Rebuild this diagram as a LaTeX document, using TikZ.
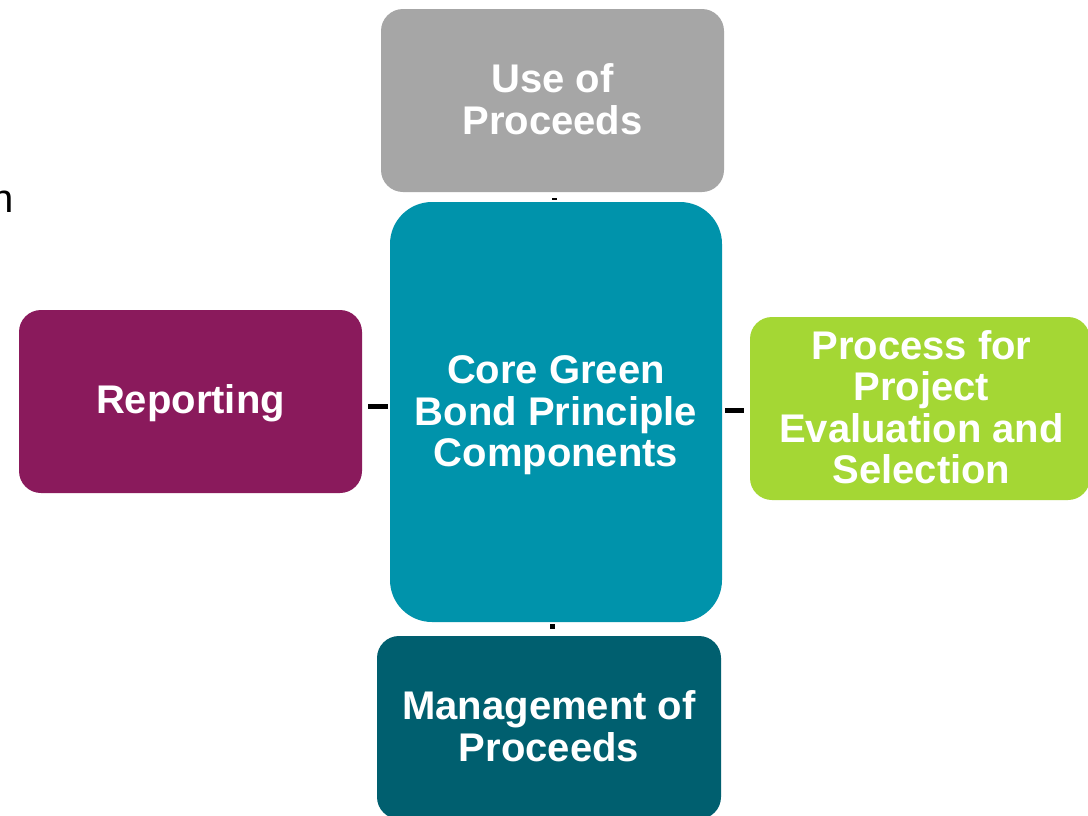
\documentclass[tikz,border=0pt]{standalone}
\usepackage{fontspec}
\setmainfont{Liberation Sans}
\usetikzlibrary{calc}
\definecolor{cgray}{HTML}{A6A6A6}
\definecolor{cteal}{HTML}{0093AB}
\definecolor{cpurple}{HTML}{8A1A5C}
\definecolor{cgreen}{HTML}{A4D734}
\definecolor{cdark}{HTML}{005F6F}
\tikzset{
  comp/.style={rounded corners=22pt, inner sep=0pt},
  comptext/.style={text=white, align=center, inner sep=0pt,
    font=\fontsize{40}{41.5}\selectfont\bfseries},
  link/.style={draw=black, line width=5pt}
}
\begin{document}
\begin{tikzpicture}[x=1pt,y=-1pt]
\useasboundingbox (0,0) rectangle (1088,815);
\fill[white] (0,0) rectangle (1088,815);
% components
\node[comp, fill=cgray, minimum width=343pt, minimum height=183pt,
  label={[comptext, yshift=1.5pt]center:Use of\\Proceeds}] (use) at (552.5,100.5) {};
\node[comp, fill=cteal, rounded corners=42pt, minimum width=332pt, minimum height=420pt,
  label={[comptext, yshift=-3.5pt]center:Core Green\\Bond Principle\\Components}] (core) at (556,412) {};
\node[comp, fill=cpurple, minimum width=343pt, minimum height=183pt,
  label={[comptext, yshift=-1.5pt]center:Reporting}] (rep) at (190.5,401.5) {};
\node[comp, fill=cgreen, minimum width=340pt, minimum height=183pt,
  label={[comptext, yshift=1.5pt, xshift=1.5pt]center:Process for\\Project\\Evaluation and\\Selection}] (proc) at (920,408.5) {};
\node[comp, fill=cdark, minimum width=344pt, minimum height=183pt,
  label={[comptext, yshift=1.5pt]center:Management of\\Proceeds}] (mgmt) at (549,727.5) {};
% partial text at the left edge
\node[anchor=base west, inner sep=0pt, font=\fontsize{40}{40}\selectfont] (cut) at (-9,212) {n};
% connectors
\coordinate (ml) at ($(rep.east)!0.5!(core.west)$);
\draw[link, shorten <=6pt, shorten >=2pt] (rep.east |- ml) -- (core.west |- ml);
\coordinate (mr) at ($(core.east)!0.5!(proc.west)$);
\draw[link, shorten <=3pt, shorten >=6pt] (core.east |- mr) -- (proc.west |- mr);
\coordinate (mt) at ($(use.south)!0.5!(core.north)$);
\draw[link, shorten <=6pt, shorten >=2pt] (use.south -| mt) -- (core.north -| mt);
\coordinate (mb) at ($(core.south)!0.5!(mgmt.north)$);
\draw[link, shorten <=2pt, shorten >=7pt] (core.south -| mb) -- (mgmt.north -| mb);
\end{tikzpicture}
\end{document}
